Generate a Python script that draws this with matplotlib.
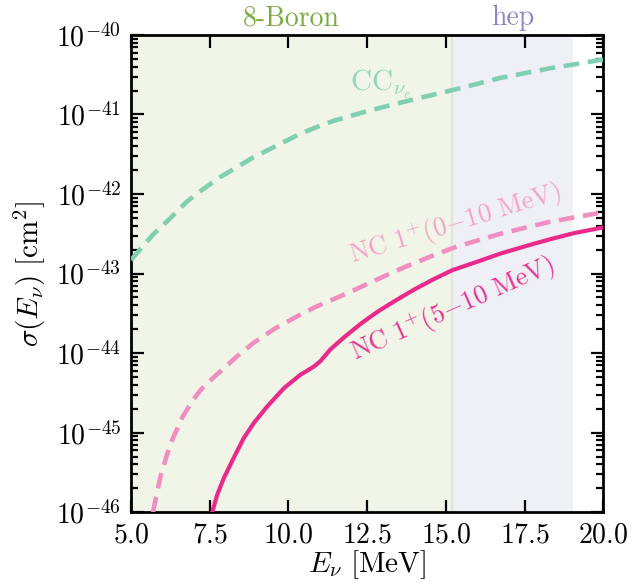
import matplotlib
matplotlib.use("Agg")
import matplotlib.pyplot as plt
import numpy as np
from matplotlib.ticker import LogLocator, NullFormatter, MultipleLocator

plt.rcParams['font.family'] = 'serif'
plt.rcParams['font.serif'] = ['cmr10']
plt.rcParams['mathtext.fontset'] = 'cm'
plt.rcParams['axes.formatter.use_mathtext'] = True
plt.rcParams['axes.unicode_minus'] = True

# ---- data ----
cc_E = [5.0, 5.7, 6.26, 6.76, 7.29, 7.82, 8.88, 9.94, 10.39, 10.89, 11.44, 12.5, 13.57,
        14.62, 15.36, 16.73, 18.3, 20.0]
cc_sigma = [1.48e-43, 3.09e-43, 5.01e-43, 7.94e-43, 1.15e-42, 1.62e-42, 2.88e-42, 4.68e-42,
            5.75e-42, 6.92e-42, 8.32e-42, 1.10e-41, 1.41e-41, 1.78e-41, 2.09e-41, 2.88e-41,
            3.80e-41, 4.90e-41]

nc010_E = [5.70, 5.79, 5.95, 6.15, 6.32, 6.64, 6.95, 7.20, 7.42, 7.84, 8.37, 8.90, 9.54,
           10.17, 10.81, 11.45, 12.08, 12.62, 13.57, 14.62, 15.36, 16.73, 18.3, 20.0]
nc010_sigma = [1.00e-46, 1.51e-46, 2.95e-46, 5.37e-46, 8.32e-46, 1.58e-45, 2.51e-45, 3.39e-45,
               4.17e-45, 5.89e-45, 9.12e-45, 1.35e-44, 2.00e-44, 2.75e-44, 3.72e-44, 4.79e-44,
               6.17e-44, 7.76e-44, 1.15e-43, 1.70e-43, 2.19e-43, 3.16e-43, 4.47e-43, 5.89e-43]

nc510_E = [7.58, 7.74, 7.95, 8.26, 8.58, 8.90, 9.33, 9.86, 10.39, 10.81, 11.02, 11.34, 11.77,
           12.30, 12.83, 13.36, 14.00, 14.62, 15.20, 16.00, 16.73, 17.50, 18.30, 19.10, 20.0]
nc510_sigma = [1.00e-46, 1.66e-46, 2.69e-46, 4.79e-46, 8.51e-46, 1.32e-45, 2.14e-45, 3.63e-45,
               5.37e-45, 6.76e-45, 7.94e-45, 1.12e-44, 1.58e-44, 2.34e-44, 3.31e-44, 4.47e-44,
               6.31e-44, 8.51e-44, 1.10e-43, 1.41e-43, 1.78e-43, 2.19e-43, 2.69e-43, 3.24e-43,
               3.80e-43]

boron_range = [5.0, 15.2]
hep_range = [15.2, 19.05]
region_labels = ["8-Boron", "hep"]

xlim = [5.0, 20.0]
ylim = [1e-46, 1e-40]

# ---- colours ----
c_cc = '#80cfb1'
c_nc010 = '#f08fbf'
c_nc510 = '#ea2a8a'

fig = plt.figure(figsize=(6.39, 5.82), dpi=100)
ax = fig.add_axes([0.205, 0.120, 0.739, 0.820])

ax.axvspan(boron_range[0], boron_range[1], color='#f0f5e7', zorder=0, lw=0)
ax.axvspan(hep_range[0], hep_range[1], color='#efeff6', zorder=0, lw=0)
ax.axvline(boron_range[1], color='#e1e4de', lw=1.5, zorder=0.5)

ax.plot(cc_E, cc_sigma, color=c_cc, lw=3.3, ls=(0, (3.4, 1.9)), zorder=3)
ax.plot(nc010_E, nc010_sigma, color=c_nc010, lw=3.3, ls=(0, (3.4, 1.9)), zorder=3)
ax.plot(nc510_E, nc510_sigma, color=c_nc510, lw=3.0, ls='-', zorder=4)

ax.set_yscale('log')
ax.set_xlim(*xlim)
ax.set_ylim(*ylim)

ax.xaxis.set_major_locator(MultipleLocator(2.5))
ax.yaxis.set_major_locator(LogLocator(base=10, numticks=20))
ax.yaxis.set_minor_locator(LogLocator(base=10, subs=np.arange(2, 10), numticks=20))
ax.yaxis.set_minor_formatter(NullFormatter())

ax.tick_params(which='both', direction='in', top=True, right=True, width=1.6, labelsize=20, colors='black')
ax.tick_params(which='major', length=9, pad=7)
ax.tick_params(which='minor', length=5)
for s in ax.spines.values():
    s.set_linewidth(2.0)

ax.set_xlabel(r'$E_\nu\ [\mathrm{MeV}]$', fontsize=21, labelpad=0)
ax.set_ylabel(r'$\sigma(E_\nu)\ [\mathrm{cm}^2]$', fontsize=21, labelpad=6)

# region labels above the axes
ax.text(np.mean(boron_range), 1.008, region_labels[0], transform=ax.get_xaxis_transform(),
        ha='center', va='bottom', fontsize=20, color='#77ad3f')
ax.text(np.mean(hep_range), 1.008, region_labels[1], transform=ax.get_xaxis_transform(),
        ha='center', va='bottom', fontsize=20, color='#8d89c9')

# curve labels
ax.text(12.95, 2.4e-41, r'$\mathrm{CC}_{\nu_e}$', color='#90d6b8', fontsize=21,
        ha='center', va='center', zorder=5)
ax.text(15.3, 4.2e-43, r'$\mathrm{NC}\ 1^{+}(0{-}10\ \mathrm{MeV})$', color='#f3a3c9',
        fontsize=19, ha='center', va='center', rotation=17, rotation_mode='anchor', zorder=5)
ax.text(15.24, 3.5e-44, r'$\mathrm{NC}\ 1^{+}(5{-}10\ \mathrm{MeV})$', color='#e8338f',
        fontsize=19, ha='center', va='center', rotation=24, rotation_mode='anchor', zorder=5)

fig.savefig('out.png', dpi=100)
